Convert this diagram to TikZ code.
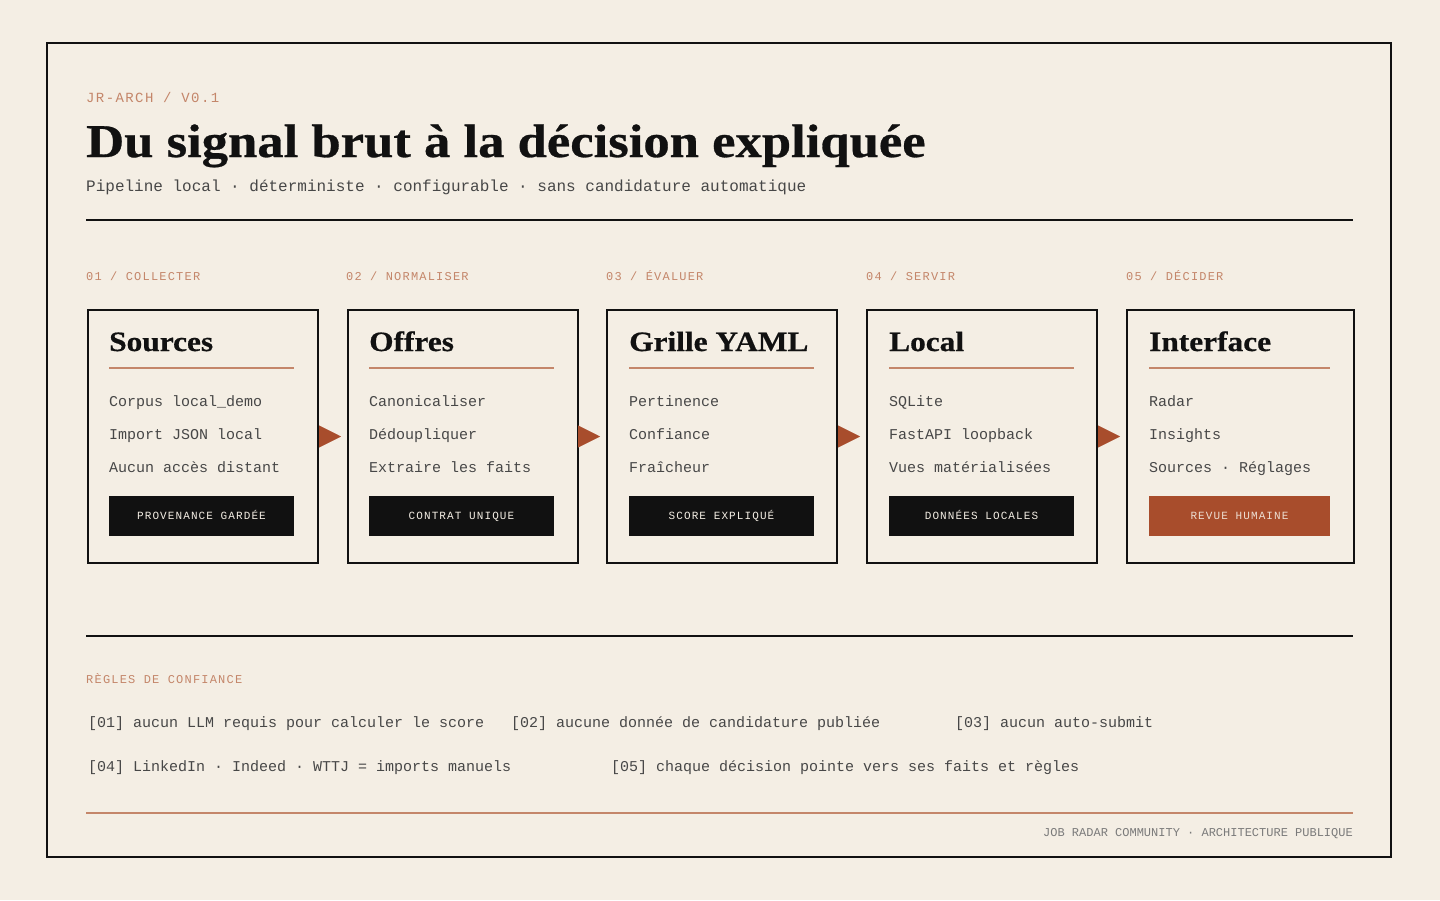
\documentclass[tikz,border=0pt]{standalone}
\usepackage{fontspec}
\setmainfont{Liberation Serif}
\setmonofont{Liberation Mono}
\newfontfamily\spacedmono[LetterSpace=10]{Liberation Mono}
\newfontfamily\headfont[FakeStretch=1.12, FakeBold=0.6]{Liberation Serif}
\usetikzlibrary{arrows.meta,positioning,calc}
\definecolor{paper}{HTML}{F4EEE4}
\definecolor{ink}{HTML}{111111}
\definecolor{rust}{HTML}{A84D2C}
\definecolor{clay}{HTML}{C4866A}
\definecolor{graphite}{HTML}{474747}
\definecolor{ash}{HTML}{7A7A7A}

\begin{document}
\begin{tikzpicture}[x=1pt,y=-1pt]
        % Styles
        \tikzstyle{plain}=[inner sep=0pt, anchor=base west]
        \tikzstyle{kicker}=[plain, text=clay, font=\spacedmono\fontsize{12}{14}\selectfont]
        \tikzstyle{stepbox}=[draw=ink, line width=2pt, anchor=north west, minimum width=230pt, minimum height=253pt, inner sep=0pt]
        \tikzstyle{boxtitle}=[plain, text=ink, font=\headfont\bfseries\fontsize{28}{32}\selectfont]
        \tikzstyle{item}=[plain, text=graphite, font=\ttfamily\fontsize{15}{18}\selectfont]
        \tikzstyle{badge}=[fill=ink, text=paper, minimum width=185pt, minimum height=40pt, inner sep=0pt, text height=7.5pt, text depth=0pt, font=\spacedmono\fontsize{11}{13}\selectfont]
        \tikzstyle{titlerule}=[clay, line width=2pt]
        \tikzstyle{flow}=[rust, -{Triangle[length=22pt,width=22pt]}, shorten >=6pt]

        % Page and frame
        \useasboundingbox[fill=paper] (0,0) rectangle (1440,900);
        \draw[ink, line width=2pt] (47,43) rectangle (1391,857);

        % Header
        \node[kicker, font=\spacedmono\fontsize{14}{16}\selectfont] (tag) at (86,102) {JR-ARCH / V0.1};
        \node[plain, text=ink, font=\headfont\bfseries\fontsize{47}{50}\selectfont] (title) at (86,157) {Du signal brut à la décision expliquée};
        \node[plain, text=graphite, font=\ttfamily\fontsize{16}{18}\selectfont] (subtitle) at (86,191) {Pipeline local · déterministe · configurable · sans candidature automatique};
        \draw[ink, line width=1.5pt] (86,220) -- (1353,220);

        % 01 / collecter
        \node[kicker] (lab1) at (86,280) {01 / COLLECTER};
        \node[stepbox] (sources) at (87,309) {};
        \node[boxtitle] (sourcesT) at (109,351) {Sources};
        \draw[titlerule] (109,368) -- (294,368);
        \node[item] (sourcesA) at (109,406) {Corpus local\_demo};
        \node[item] (sourcesB) at (109,439) {Import JSON local};
        \node[item] (sourcesC) at (109,472) {Aucun accès distant};
        \node[badge] (sourcesX) at (201.5,516) {PROVENANCE GARDÉE};

        % 02 / normaliser
        \node[kicker] (lab2) at (346,280) {02 / NORMALISER};
        \node[stepbox] (offres) at (347,309) {};
        \node[boxtitle] (offresT) at (369,351) {Offres};
        \draw[titlerule] (369,368) -- (554,368);
        \node[item] (offresA) at (369,406) {Canonicaliser};
        \node[item] (offresB) at (369,439) {Dédoupliquer};
        \node[item] (offresC) at (369,472) {Extraire les faits};
        \node[badge] (offresX) at (461.5,516) {CONTRAT UNIQUE};

        % 03 / evaluer
        \node[kicker] (lab3) at (606,280) {03 / ÉVALUER};
        \node[stepbox] (grille) at (606,309) {};
        \node[boxtitle] (grilleT) at (629,351) {Grille YAML};
        \draw[titlerule] (629,368) -- (814,368);
        \node[item] (grilleA) at (629,406) {Pertinence};
        \node[item] (grilleB) at (629,439) {Confiance};
        \node[item] (grilleC) at (629,472) {Fraîcheur};
        \node[badge] (grilleX) at (721.5,516) {SCORE EXPLIQUÉ};

        % 04 / servir
        \node[kicker] (lab4) at (866,280) {04 / SERVIR};
        \node[stepbox] (local) at (866,309) {};
        \node[boxtitle] (localT) at (889,351) {Local};
        \draw[titlerule] (889,368) -- (1074,368);
        \node[item] (localA) at (889,406) {SQLite};
        \node[item] (localB) at (889,439) {FastAPI loopback};
        \node[item] (localC) at (889,472) {Vues matérialisées};
        \node[badge] (localX) at (981.5,516) {DONNÉES LOCALES};

        % 05 / decider
        \node[kicker] (lab5) at (1126,280) {05 / DÉCIDER};
        \node[stepbox, minimum width=227pt] (interface) at (1126,309) {};
        \node[boxtitle] (interfaceT) at (1149,351) {Interface};
        \draw[titlerule] (1149,368) -- (1330,368);
        \node[item] (interfaceA) at (1149,406) {Radar};
        \node[item] (interfaceB) at (1149,439) {Insights};
        \node[item] (interfaceC) at (1149,472) {Sources · Réglages};
        \node[badge, fill=rust, text=paper!85!clay, minimum width=181pt] (interfaceX) at (1239.5,516) {REVUE HUMAINE};

        % Flow between the steps
        \draw[flow] (sources) -- (offres);
        \draw[flow] (offres) -- (grille);
        \draw[flow] (grille) -- (local);
        \draw[flow] (local) -- (interface);

        % Trust rules
        \draw[ink, line width=1.5pt] (86,636) -- (1353,636);
        \node[kicker] (rules) at (86,683) {RÈGLES DE CONFIANCE};
        \node[item] (rule1) at (88,727) {[01] aucun LLM requis pour calculer le score};
        \node[item] (rule2) at (511,727) {[02] aucune donnée de candidature publiée};
        \node[item] (rule3) at (955,727) {[03] aucun auto-submit};
        \node[item] (rule4) at (88,771) {[04] LinkedIn · Indeed · WTTJ = imports manuels};
        \node[item] (rule5) at (611,771) {[05] chaque décision pointe vers ses faits et règles};

        % Footer
        \draw[clay, line width=1.5pt] (86,813) -- (1353,813);
        \node[plain, anchor=base east, text=ash, font=\ttfamily\fontsize{12}{14}\selectfont] (footer) at (1353,836) {JOB RADAR COMMUNITY · ARCHITECTURE PUBLIQUE};
    \end{tikzpicture}
\end{document}
